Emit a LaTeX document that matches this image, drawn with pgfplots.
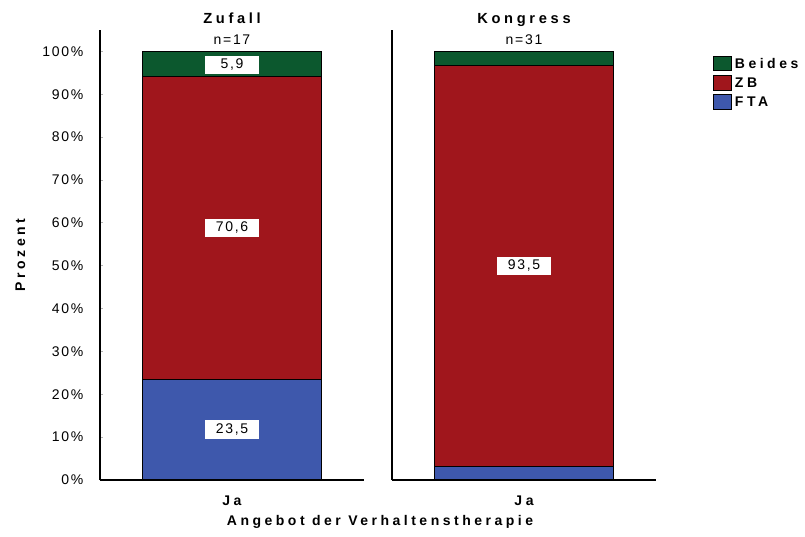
\documentclass[border=0pt]{standalone}
\usepackage{pgfplots}
\pgfplotsset{compat=1.18}
\usepackage{fontspec}
\setmainfont{Liberation Sans}[LetterSpace=12]
\newfontfamily\boldsp{Liberation Sans}[LetterSpace=25,BoldFont={Liberation Sans Bold}]
\definecolor{cBeides}{RGB}{12,88,46}
\definecolor{cZB}{RGB}{160,22,28}
\definecolor{cFTA}{RGB}{62,88,172}
\tikzset{vlabel/.style={fill=white, inner sep=0pt, minimum width=40pt, minimum height=14pt, font=\fontsize{10.5}{12}\selectfont}}
\begin{document}
\begin{tikzpicture}[x=0.75pt,y=0.75pt]
\path[use as bounding box] (-100,-56) rectangle (705,480);
\pgfplotsset{
  panel/.style={
    scale only axis, width=198pt, height=337.5pt,
    ymin=0, ymax=105, xmin=0, xmax=1,
    axis x line*=bottom, axis y line*=left,
    ybar stacked, bar width=134.25pt,
    xtick={0.5}, xticklabels={\boldsp\bfseries Ja},
    x tick label style={yshift=-8pt},
    major tick length=0pt,
    axis line style={black, line width=0.8pt},
    every axis plot/.append style={draw=black, line width=0.8pt},
    tick label style={font=\fontsize{10.5}{12}\selectfont},
    clip=false,
  },
}
% Left panel: Zufall
\begin{axis}[panel, at={(0pt,0pt)}, anchor=south west,
  ytick={0,10,...,100},
  yticklabel={\pgfmathprintnumber{\tick}\%},
  /pgf/number format/assume math mode=true,
  y tick label style={xshift=-9pt},
  y tick style={gray!60, line width=0.6pt}, major tick length=2pt,
  ylabel={\boldsp\bfseries Prozent}, ylabel style={font=\fontsize{10.5}{12}\selectfont, yshift=6pt},
]
\addplot[fill=cFTA] coordinates {(0.5,23.5)};
\addplot[fill=cZB] coordinates {(0.5,70.6)};
\addplot[fill=cBeides] coordinates {(0.5,5.9)};
\coordinate (a1) at (axis cs:0.5,11.75);
\coordinate (a2) at (axis cs:0.5,58.8);
\coordinate (a3) at (axis cs:0.5,96.85);
\node[font=\fontsize{10.5}{12}\selectfont, anchor=base] at (axis cs:0.5,101.7) {n=17};
\node[font=\fontsize{11}{12}\selectfont\boldsp\bfseries, anchor=base] at (axis cs:0.5,106.5) {Zufall};
\end{axis}
% Right panel: Kongress
\begin{axis}[panel, at={(219pt,0pt)}, anchor=south west,
  ytick=\empty,
  legend style={at={(1.198,0.95)}, anchor=north west, draw=none, fill=none,
    font=\fontsize{10.5}{12}\selectfont\boldsp\bfseries, row sep=1.5pt,
    /tikz/every even column/.append style={column sep=3pt}},
  legend cell align=left, reverse legend,
  legend image code/.code={\draw[#1, line width=0.8pt] (0pt,-5pt) rectangle (14pt,6pt);},
  legend style={nodes={xshift=5pt}},
]
\addplot[fill=cFTA] coordinates {(0.5,3.2)};
\addplot[fill=cZB] coordinates {(0.5,93.5)};
\addplot[fill=cBeides] coordinates {(0.5,3.3)};
\legend{FTA,ZB,Beides}
\coordinate (b1) at (axis cs:0.5,49.95);
\node[font=\fontsize{10.5}{12}\selectfont, anchor=base] at (axis cs:0.5,101.7) {n=31};
\node[font=\fontsize{11}{12}\selectfont\boldsp\bfseries, anchor=base] at (axis cs:0.5,106.5) {Kongress};
\end{axis}
\node[vlabel] at (a1) {23,5};
\node[vlabel] at (a2) {70,6};
\node[vlabel] at (a3) {5,9};
\node[vlabel] at (b1) {93,5};
\node[font=\fontsize{10.5}{12}\selectfont\boldsp\bfseries] at (280,-42) {Angebot der Verhaltenstherapie};
\end{tikzpicture}
\end{document}
